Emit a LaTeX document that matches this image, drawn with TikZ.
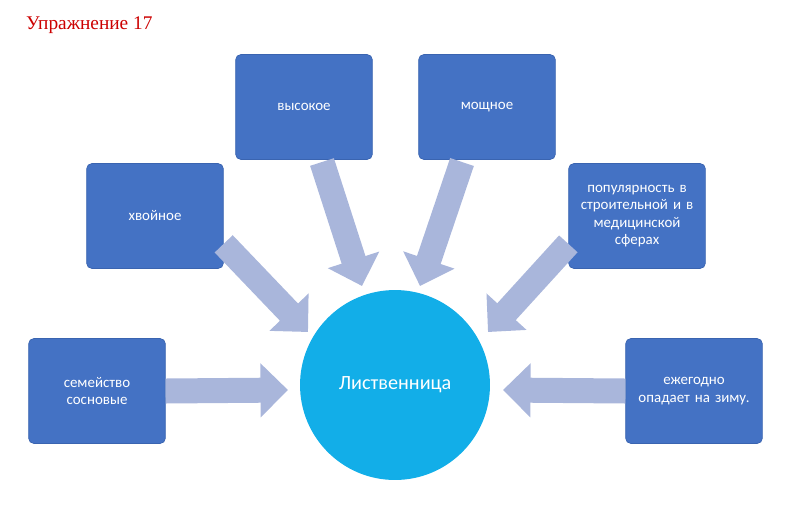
\documentclass[tikz,border=0pt]{standalone}
\usepackage{fontspec}
\setmainfont{Carlito}
\newfontfamily\titlefont{Liberation Serif}
\usetikzlibrary{arrows.meta}
\definecolor{boxblue}{HTML}{4472C4}
\definecolor{boxedge}{HTML}{3A64B0}
\definecolor{ringblue}{HTML}{12AEE8}
\definecolor{arrowgray}{HTML}{A9B6DB}
\tikzset{
  feature/.style={draw=boxedge, fill=boxblue, rounded corners=3pt, minimum width=2.7cm,
    minimum height=2.1cm, text=white, font=\fontsize{8.5}{10}\selectfont, align=center, text width=2.5cm},
  fatarrow/.style={draw=arrowgray, line width=0.5cm, -{Triangle[length=0.55cm,width=1.05cm]}}
}
\begin{document}
\begin{tikzpicture}[x=0.02cm,y=-0.02cm]
  \useasboundingbox (0,0) rectangle (787,518);
  \node[anchor=west, text=red!80!black, font=\titlefont\fontsize{11}{12}\selectfont] (title) at (20,25) {Упражнение 17};

  \node[circle, fill=ringblue, minimum size=3.8cm, text=white, font=\fontsize{11.5}{13}\selectfont] (larch) at (395,385) {Лиственница};

  \node[feature] (tall) at (304,107) {высокое};
  \node[feature] (strong) at (487,107) {мощное};
  \node[feature] (conifer) at (155,216) {хвойное};
  \node[feature] (usage) at (637,216) {популярность в строительной и в медицинской сферах};
  \node[feature] (family) at (97,391) {семейство сосновые};
  \node[feature] (annual) at (694,391) {ежегодно опадает на зиму.};

  % arrows into the centre
  \coordinate (tallend) at (362,286);
  \coordinate (strongend) at (420,286);
  \coordinate (coniferend) at (308,332);
  \coordinate (usageend) at (488,332);
  \coordinate (familyend) at (288,390);
  \coordinate (annualend) at (503,390);
  \draw[fatarrow] (322,162) -- (tallend);
  \draw[fatarrow] (462,162) -- (strongend);
  \draw[fatarrow] (conifer.south east) ++(0,-25) -- (coniferend);
  \draw[fatarrow] (usage.south west) ++(0,-25) -- (usageend);
  \draw[fatarrow] (family.east) -- (familyend);
  \draw[fatarrow] (annual.west) -- (annualend);
\end{tikzpicture}
\end{document}
